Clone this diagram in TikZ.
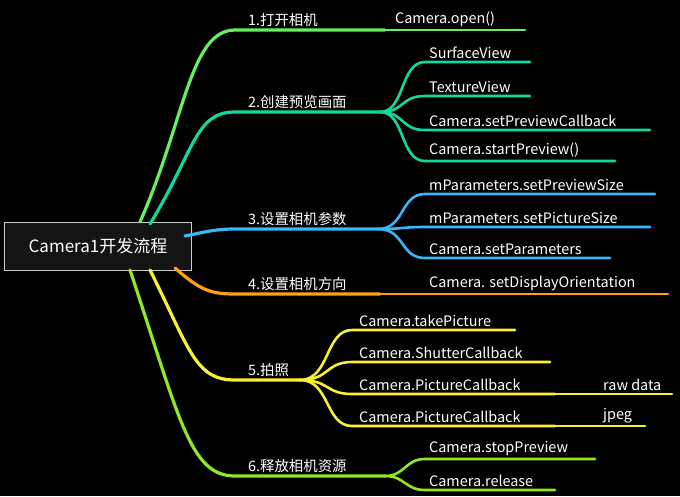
\documentclass[tikz,border=0pt]{standalone}
\usepackage{fontspec}
\setmainfont{Noto Sans CJK SC}
\begin{document}
\begin{tikzpicture}[x=1pt,y=-1pt,
  br/.style={line width=3.2pt,line cap=round},
  sub/.style={line width=2.6pt,line cap=round},
  lbl/.style={anchor=south west,text=white,font=\fontsize{14.4}{14.4}\selectfont,inner sep=1pt,yshift=2pt}]
\fill[black] (0,0) rectangle (680,496);
\useasboundingbox (0,0) rectangle (680,496);
\definecolor{c1}{HTML}{66F060}\definecolor{c2}{HTML}{10D8A0}\definecolor{c3}{HTML}{38B8F8}
\definecolor{c4}{HTML}{FFA010}\definecolor{c5}{HTML}{F8F030}\definecolor{c6}{HTML}{90E820}
% root
\node[draw=gray!40,fill=black!92,text=white,minimum width=187pt,minimum height=48pt,font=\fontsize{17}{17}\selectfont] (root) at (98,246) {Camera1开发流程};
% branch 1
\coordinate (a1) at (235,30); \coordinate (h1) at (385,30); \coordinate (e1) at (525,30);
\draw[br,c1] (140,222) .. controls (185,120) and (190,30) .. (a1) -- (h1);
\draw[sub,c1] (h1) -- (e1);
\node[lbl] (t1) at (a1) {\hspace{12pt}1.打开相机};
\node[lbl] (s11) at (394,30) {Camera.open()};
% branch 2
\coordinate (a2) at (235,112); \coordinate (h2) at (380,112);
\draw[br,c2] (150,224) .. controls (195,150) and (195,112) .. (a2) -- (h2);
\node[lbl] (t2) at (a2) {\hspace{12pt}2.创建预览画面};
\foreach \y/\e/\t in {62/530/SurfaceView,96/530/TextureView,130/650/Camera.setPreviewCallback,161/615/Camera.startPreview()}{
  \draw[sub,c2] (h2) .. controls (405,112) and (400,\y) .. (425,\y) -- (\e,\y);
  \node[lbl] at (428,\y) {\t};}
% branch 3
\coordinate (a3) at (235,229); \coordinate (h3) at (378,229);
\draw[br,c3] (185,236) .. controls (205,232) and (215,229) .. (a3) -- (h3);
\node[lbl] (t3) at (a3) {\hspace{12pt}3.设置相机参数};
\foreach \y/\e/\t in {194/655/mParameters.setPreviewSize,227/650/mParameters.setPictureSize,258/610/Camera.setParameters}{
  \draw[sub,c3] (h3) .. controls (405,229) and (400,\y) .. (425,\y) -- (\e,\y);
  \node[lbl] at (428,\y) {\t};}
% branch 4
\coordinate (a4) at (235,294); \coordinate (h4) at (380,294); \coordinate (e4) at (668,294);
\draw[br,c4] (175,268) .. controls (200,290) and (210,294) .. (a4) -- (h4);
\draw[sub,c4] (h4) .. controls (400,294) and (405,294) .. (e4);
\node[lbl] (t4) at (a4) {\hspace{12pt}4.设置相机方向};
\node[lbl] (s41) at (428,294) {Camera. setDisplayOrientation};
% branch 5
\coordinate (a5) at (235,380); \coordinate (h5) at (300,380);
\draw[br,c5] (150,270) .. controls (190,350) and (195,380) .. (a5) -- (h5);
\node[lbl] (t5) at (a5) {\hspace{12pt}5.拍照};
\foreach \y/\e/\t in {330/515/Camera.takePicture,362/550/Camera.ShutterCallback,394/555/Camera.PictureCallback,426/555/Camera.PictureCallback}{
  \draw[sub,c5] (h5) .. controls (330,380) and (325,\y) .. (352,\y) -- (\e,\y);
  \node[lbl] at (358,\y) {\t};}
\draw[sub,c5] (555,394) -- (672,394); \node[lbl] (rd) at (602,394) {raw data};
\draw[sub,c5] (555,426) -- (645,426); \node[lbl] (jp) at (602,426) {jpeg};
% branch 6
\coordinate (a6) at (235,476); \coordinate (h6) at (385,476);
\draw[br,c6] (130,270) .. controls (180,420) and (190,476) .. (a6) -- (h6);
\node[lbl] (t6) at (a6) {\hspace{12pt}6.释放相机资源};
\foreach \y/\e/\t in {459/595/Camera.stopPreview,490/555/Camera.release}{
  \draw[sub,c6] (h6) .. controls (405,476) and (405,\y) .. (425,\y) -- (\e,\y);
  \node[lbl] at (428,\y) {\t};}
\end{tikzpicture}
\end{document}
